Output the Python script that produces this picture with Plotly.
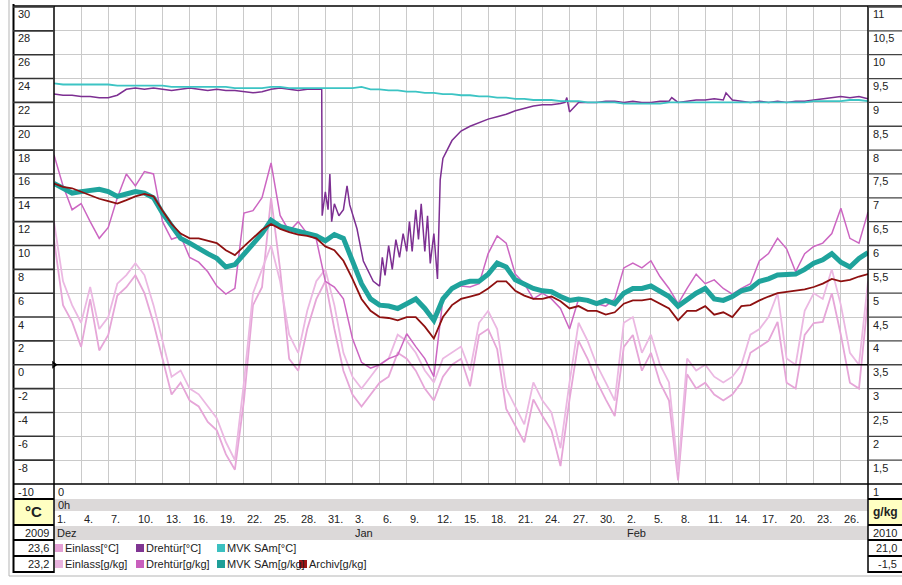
import plotly.graph_objects as go
import pandas as pd

# ---------------- data (days since 1 Dec 2009, 0h) ----------------
start = pd.Timestamp("2009-12-01")
day = list(range(91))

einlass_c = [10.5, 5.0, 3.6, 1.5, 5.5, 1.2, 2.5, 5.8, 6.5, 7.5,
             6.0, 3.5, 0.5, -2.5, -1.5, -3.0, -3.5, -4.8, -5.5, -7.5,
             -8.8, -3.0, 5.0, 6.5, 14.0, 8.0, 0.5, -0.5, 3.0, 5.5,
             7.0, 3.0, -0.5, -2.5, -3.5, -2.5, -1.5, -1.0, 1.0, 0.5,
             -0.5, -2.0, -3.0, -1.0, 0.0, 0.5, -1.8, 2.5, 3.0, 1.3,
             -3.7, -5.1, -6.5, -2.9, -4.3, -5.5, -8.5, -2.9, 2.0, 0.5,
             -1.4, -2.9, -4.3, 1.5, 2.5, -0.5, 1.0, -1.5, -3.0, -9.7,
             -0.8, -2.0, -1.5, -2.5, -3.0, -2.5, -1.5, 1.0, 1.5, 2.0,
             3.6, -1.5, -2.0, 2.5, 3.5, 3.6, 6.0, 2.5, -1.5, -2.0, 5.5]

einlass_g = [6.50, 5.25, 4.75, 4.38, 5.13, 4.25, 4.50, 5.20, 5.38, 5.63,
             5.38, 4.75, 4.00, 3.25, 3.38, 3.00, 2.88, 2.63, 2.38, 1.88,
             1.50, 3.13, 5.00, 5.50, 6.00, 5.25, 4.13, 3.75, 4.63, 5.25,
             5.50, 4.75, 3.75, 3.25, 3.00, 3.25, 3.50, 3.63, 4.13, 4.00,
             3.75, 3.38, 3.13, 3.63, 3.75, 3.88, 3.38, 4.38, 4.63, 4.25,
             3.00, 2.63, 2.25, 3.13, 2.75, 2.50, 1.75, 3.13, 4.38, 4.00,
             3.50, 3.13, 2.75, 4.38, 4.50, 3.75, 4.13, 3.50, 3.13, 1.25,
             3.63, 3.38, 3.50, 3.25, 3.13, 3.25, 3.50, 4.13, 4.25, 4.50,
             5.00, 3.63, 3.50, 4.63, 5.00, 4.88, 5.50, 4.75, 3.75, 3.50, 5.25]

drehtuer_g = [7.90, 7.25, 6.75, 6.88, 6.50, 6.15, 6.38, 7.00, 7.50, 7.25,
              7.55, 7.50, 6.50, 6.13, 6.20, 5.75, 5.65, 5.45, 5.15, 4.98,
              5.10, 6.68, 6.73, 7.00, 7.73, 6.63, 6.30, 6.50, 6.25, 6.13,
              5.25, 5.13, 4.88, 4.05, 3.55, 3.43, 3.50, 3.63, 3.70, 4.15,
              3.88, 3.63, 3.25, 4.88, 5.10, 5.15, 5.13, 5.20, 5.83, 6.20,
              6.05, 5.40, 5.20, 4.88, 5.00, 4.88, 4.68, 4.25, 4.88, 4.88,
              4.78, 4.73, 4.88, 5.53, 5.63, 5.53, 5.68, 5.35, 5.10, 4.78,
              5.10, 5.40, 5.20, 5.28, 5.10, 4.98, 5.10, 5.20, 5.68, 5.83,
              6.15, 5.93, 5.45, 5.83, 5.98, 6.05, 6.25, 6.78, 6.15, 6.05, 6.70]

drehtuer_c_day = [0, 1, 2, 3, 4, 5, 6, 7, 8, 9, 10, 11, 12, 13, 14, 15, 16, 17, 18, 19,
                  20, 21, 22, 23, 24, 25, 26, 27, 28, 29, 29.6, 29.65, 30.0, 30.3, 30.5,
                  30.7, 31.0, 31.5, 32.0, 32.4, 32.7, 33.5, 34.2, 35.3, 36.0, 36.3, 36.6,
                  37.0, 37.4, 37.8, 38.2, 38.6, 39.0, 39.3, 39.6, 40.0, 40.3, 40.6, 41.0,
                  41.3, 41.6, 42.0, 42.3, 42.4, 42.7, 43.0, 44, 45, 46, 47, 48, 49, 50,
                  51, 52, 53, 54, 55, 56, 56.5, 56.7, 57, 58, 59, 60, 61, 62, 63, 64,
                  65, 66, 67, 68, 68.3, 69, 70, 71, 72, 73, 74, 74.3, 75, 76, 77, 78,
                  79, 80, 81, 82, 83, 84, 85, 86, 87, 88, 89, 90]
drehtuer_c = [22.7, 22.6, 22.6, 22.5, 22.5, 22.4, 22.4, 22.6, 23.1, 23.2, 23.1, 23.2,
              23.1, 23.0, 23.1, 23.2, 23.1, 23.0, 23.1, 23.0, 23.0, 22.9, 22.8, 22.9,
              23.1, 23.2, 23.1, 23.0, 23.1, 23.1, 23.1, 12.5, 14.5, 13.0, 16.0, 12.0,
              13.5, 12.5, 13.0, 15.0, 13.4, 11.4, 8.7, 7.0, 6.6, 9.0, 7.5, 10.0, 8.0,
              10.5, 9.0, 11.0, 9.5, 12.0, 9.5, 13.0, 10.5, 13.5, 9.5, 12.5, 8.5, 11.0,
              8.0, 7.2, 15.5, 17.3, 18.8, 19.6, 20.0, 20.3, 20.6, 20.8, 21.0, 21.3,
              21.5, 21.7, 21.8, 21.8, 21.9, 22.0, 22.4, 21.2, 22.0, 22.0, 22.0, 22.1,
              22.1, 22.0, 22.1, 22.0, 22.0, 22.1, 22.1, 22.4, 22.0, 22.1, 22.2, 22.2,
              22.3, 22.2, 22.8, 22.2, 22.1, 22.0, 22.1, 22.0, 22.1, 22.0, 22.1, 22.1,
              22.2, 22.3, 22.4, 22.5, 22.4, 22.5, 22.3, 22.4]

mvk_c = [23.6, 23.5, 23.5, 23.5, 23.5, 23.5, 23.5, 23.4, 23.4, 23.4, 23.4,
         23.4, 23.4, 23.3, 23.3, 23.3, 23.3, 23.3, 23.3, 23.3, 23.2,
         23.2, 23.2, 23.2, 23.3, 23.3, 23.2, 23.2, 23.2, 23.2, 23.2,
         23.2, 23.2, 23.2, 23.3, 23.1, 23.1, 23.0, 23.0, 22.9, 22.9,
         22.8, 22.8, 22.7, 22.7, 22.6, 22.6, 22.5, 22.5, 22.4, 22.4,
         22.3, 22.3, 22.2, 22.2, 22.2, 22.1, 22.1, 22.1, 22.0, 22.0,
         22.0, 22.0, 21.9, 21.9, 21.9, 21.9, 21.9, 22.0, 22.0, 22.0,
         22.0, 22.0, 22.0, 22.0, 22.0, 22.0, 22.0, 22.0, 22.0, 22.0,
         22.0, 22.0, 22.0, 22.1, 22.1, 22.1, 22.1, 22.2, 22.2, 22.1]

mvk_g = [7.30, 7.20, 7.10, 7.13, 7.15, 7.18, 7.13, 7.03, 7.08, 7.13,
         7.10, 7.00, 6.68, 6.40, 6.15, 6.05, 5.93, 5.83, 5.73, 5.55,
         5.60, 5.83, 6.05, 6.25, 6.53, 6.40, 6.35, 6.30, 6.23, 6.20,
         6.10, 6.23, 6.15, 5.68, 5.20, 4.88, 4.75, 4.73, 4.68, 4.78,
         4.88, 4.68, 4.43, 4.88, 5.10, 5.20, 5.25, 5.25, 5.40, 5.63,
         5.55, 5.28, 5.20, 5.10, 5.05, 5.03, 4.93, 4.85, 4.88, 4.85,
         4.78, 4.85, 4.78, 5.00, 5.10, 5.10, 5.15, 5.05, 4.93, 4.73,
         4.88, 5.00, 5.10, 4.88, 4.85, 4.93, 5.05, 5.10, 5.25, 5.30,
         5.38, 5.40, 5.40, 5.50, 5.63, 5.70, 5.83, 5.65, 5.55, 5.73, 5.85]

archiv_g = [7.30, 7.23, 7.20, 7.13, 7.05, 6.98, 6.93, 6.88, 6.95, 7.03,
            7.08, 7.03, 6.73, 6.45, 6.25, 6.15, 6.15, 6.10, 6.05, 5.90,
            5.80, 5.98, 6.15, 6.33, 6.45, 6.35, 6.28, 6.23, 6.20, 6.15,
            5.98, 5.90, 5.68, 5.30, 4.88, 4.63, 4.50, 4.48, 4.43, 4.50,
            4.50, 4.30, 4.05, 4.50, 4.75, 4.88, 4.93, 4.98, 5.10, 5.25,
            5.25, 5.05, 4.95, 4.88, 4.88, 4.93, 4.83, 4.68, 4.73, 4.63,
            4.63, 4.55, 4.60, 4.78, 4.85, 4.85, 4.88, 4.78, 4.68, 4.43,
            4.63, 4.63, 4.73, 4.55, 4.60, 4.50, 4.73, 4.75, 4.85, 4.93,
            5.00, 5.03, 5.05, 5.08, 5.13, 5.20, 5.30, 5.25, 5.28, 5.35, 5.40]

left_ticks = list(range(30, -12, -2))
right_ticks = ["11", "10,5", "10", "9,5", "9", "8,5", "8", "7,5", "7", "6,5", "6",
               "5,5", "5", "4,5", "4", "3,5", "3", "2,5", "2", "1,5", "1"]
tick_days = list(range(0, 90, 3))
month_names = {12: "Dez", 1: "Jan", 2: "Feb"}

legend_rows = [
    [("Einlass[°C]", "#e39fd4"), ("Drehtür[°C]", "#7f3592"), ("MVK SAm[°C]", "#3cc0c0")],
    [("Einlass[g/kg]", "#e8b3de"), ("Drehtür[g/kg]", "#c95fbd"),
     ("MVK SAm[g/kg]", "#1f9f98"), ("Archiv[g/kg]", "#a01515")],
]

# ---------------- layout helpers (pixel -> paper) ----------------
W, H = 902, 585
L_, R_, T_, B_ = 54, 868, 7, 484


def X(px):
    return (px - L_) / (R_ - L_)


def Y(py):
    return (B_ - py) / (B_ - T_)


FONT = "Liberation Sans, Arial, sans-serif"
TXT = "#222222"

fig = go.Figure()


def line(x, y, name, color, width, axis="y"):
    fig.add_trace(go.Scatter(x=x, y=y, name=name, mode="lines", yaxis=axis,
                             line=dict(color=color, width=width), hoverinfo="skip"))


line(day, einlass_c, "Einlass[°C]", "#e6a6d8", 1.8)
line(day, einlass_g, "Einlass[g/kg]", "#ebb8e2", 1.8, "y2")
line(day, drehtuer_g, "Drehtür[g/kg]", "#cc66c2", 1.5, "y2")
line(drehtuer_c_day, drehtuer_c, "Drehtür[°C]", "#7d2f92", 1.5)
line(day, mvk_c, "MVK SAm[°C]", "#3cc4c4", 1.8)
line(day, mvk_g, "MVK SAm[g/kg]", "#1fa39c", 5, "y2")
line(day, archiv_g, "Archiv[g/kg]", "#8e1010", 1.8, "y2")

# small zero marker at left edge
fig.add_trace(go.Scatter(x=[0], y=[0], mode="markers", cliponaxis=False,
                         marker=dict(symbol="triangle-right", size=7, color="black"),
                         hoverinfo="skip"))

fig.update_layout(
    width=W, height=H, showlegend=False,
    margin=dict(l=L_, r=W - R_, t=T_, b=H - B_, pad=0),
    paper_bgcolor="white", plot_bgcolor="white",
    xaxis=dict(range=[0, 90], tickmode="linear", tick0=0, dtick=3,
               showgrid=True, gridcolor="#cacaca", gridwidth=1,
               showticklabels=False, zeroline=False, showline=False, ticks=""),
    yaxis=dict(range=[-10, 30], tickmode="linear", tick0=-10, dtick=2,
               showgrid=True, gridcolor="#cacaca", gridwidth=1,
               showticklabels=False, zeroline=False, showline=False, ticks=""),
    yaxis2=dict(range=[1, 11], overlaying="y", side="right", showgrid=False,
                showticklabels=False, zeroline=False, showline=False, ticks=""),
)

shapes = []
annots = []


def hline(y0, x0, x1, color="black", w=1.5):
    shapes.append(dict(type="line", xref="paper", yref="paper", x0=X(x0), x1=X(x1),
                       y0=Y(y0), y1=Y(y0), line=dict(color=color, width=w)))


def vline(x0, y0, y1, color="black", w=1.5):
    shapes.append(dict(type="line", xref="paper", yref="paper", x0=X(x0), x1=X(x0),
                       y0=Y(y0), y1=Y(y1), line=dict(color=color, width=w)))


def rect(x0, y0, x1, y1, fill, lc=None, lw=0):
    shapes.append(dict(type="rect", xref="paper", yref="paper", x0=X(x0), x1=X(x1),
                       y0=Y(y0), y1=Y(y1), fillcolor=fill, layer="below",
                       line=dict(color=lc or fill, width=lw)))


def text(px, py, s, anchor="left", size=11, bold=False):
    annots.append(dict(xref="paper", yref="paper", x=X(px), y=Y(py), text=f"<b>{s}</b>" if bold else s,
                       showarrow=False, xanchor=anchor, yanchor="middle",
                       font=dict(family=FONT, size=size, color=TXT)))


# zero line (black)
shapes.append(dict(type="line", xref="paper", yref="y", x0=0, x1=1, y0=0, y1=0,
                   line=dict(color="black", width=1.5)))

# bottom bands
rect(54, 499, 868, 511, "#dcd9d9")
rect(54, 526, 868, 540, "#dcd9d9")
rect(14, 499, 53, 525, "#ffffc2")
rect(869, 499, 902, 525, "#ffffc2")

# outer frame lines
vline(9, 0, 576, "#b5b5b5", 1)
hline(576, 9, 902, "#b5b5b5", 1)
vline(13.5, 4, 573, "black", 2)
vline(54, 6, 573, "black", 1.5)
vline(868, 6, 573, "black", 1.5)
hline(6, 13, 902, "black", 1.5)
hline(484, 13, 902, "black", 1.5)
for yy in [499, 525, 540, 556, 572]:
    hline(yy, 13, 54, "black", 1.8)
    hline(yy, 868, 902, "black", 1.8)

# axis column dividers + labels
for v in left_ticks:
    ypx = B_ - (v + 10) * (B_ - T_) / 40
    if v > -10:
        hline(ypx, 13, 54, "#333333", 1.6)
        hline(ypx, 868, 902, "#444444", 1.3)
    text(16, ypx + 7.5, str(v))
for i, s in enumerate(right_ticks):
    ypx = T_ + i * (B_ - T_) / 20
    text(871, ypx + 7.5, s)

# bottom rows text
text(56, 491.5, "0")
text(56, 505, "0h")
month_done = set()
for d in tick_days:
    dt = start + pd.Timedelta(days=d)
    annots.append(dict(xref="x", yref="paper", x=d, y=Y(518.5), text=f"{dt.day}.",
                       showarrow=False, xanchor="left", yanchor="middle", xshift=1,
                       font=dict(family=FONT, size=11, color=TXT)))
    if dt.month not in month_done:
        month_done.add(dt.month)
        annots.append(dict(xref="x", yref="paper", x=d, y=Y(533), text=month_names[dt.month],
                           showarrow=False, xanchor="left", yanchor="middle", xshift=1,
                           font=dict(family=FONT, size=11, color=TXT)))

text(33.5, 512, "°C", anchor="center", size=15, bold=True)
text(885.5, 512, "g/kg", anchor="center", size=12, bold=True)
text(51, 533, "2009", anchor="right")
text(51, 548, "23,6", anchor="right")
text(51, 564, "23,2", anchor="right")
text(899, 533, "2010", anchor="right")
text(899, 548, "21,0", anchor="right")
text(899, 564, "-1,5", anchor="right")

# manual legend
xs = [55, 136, 217, 299]
for r, row in enumerate(legend_rows):
    yc = 548 if r == 0 else 564
    for k, (name, col) in enumerate(row):
        x0 = xs[k]
        shapes.append(dict(type="rect", xref="paper", yref="paper", x0=X(x0), x1=X(x0 + 8),
                           y0=Y(yc - 4), y1=Y(yc + 4), fillcolor=col, line=dict(width=0)))
        text(x0 + 8, yc, name)

fig.update_layout(shapes=shapes, annotations=annots)
fig.write_html("out.html", config={"displayModeBar": False},
               post_script="document.body.style.margin='0px';document.body.style.overflow='hidden';")
